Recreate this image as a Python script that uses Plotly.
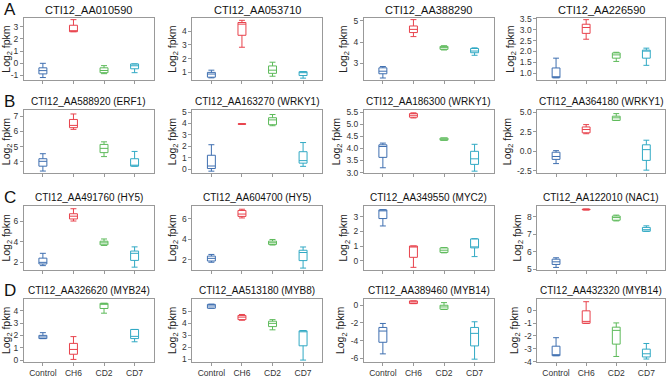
import plotly.graph_objects as go

categories = ["Control", "CH6", "CD2", "CD7"]
colors = ["#3f6fb0", "#e8424c", "#5dba5a", "#31a9c4"]

titles = [
    "CTI12_AA010590", "CTI12_AA053710", "CTI12_AA388290", "CTI12_AA226590",
    "CTI12_AA588920 (ERF1)", "CTI12_AA163270 (WRKY1)", "CTI12_AA186300 (WRKY1)", "CTI12_AA364180 (WRKY1)",
    "CTI12_AA491760 (HY5)", "CTI12_AA604700 (HY5)", "CTI12_AA349550 (MYC2)", "CTI12_AA122010 (NAC1)",
    "CTI12_AA326620 (MYB24)", "CTI12_AA513180 (MYB8)", "CTI12_AA389460 (MYB14)", "CTI12_AA432320 (MYB14)",
]
row_letters = ["A", "B", "C", "D"]

# box statistics per panel, order: Control, CH6, CD2, CD7
lower = [
    [-1.17, 2.6, -0.85, -0.77], [0.6, 2.83, 0.72, 0.58], [2.31, 4.26, 3.63, 3.38], [0.79, 2.56, 1.54, 1.36],
    [3.4, 6.14, 4.35, 3.72], [-0.17, 3.93, 3.8, 0.25], [3.2, 5.26, 4.34, 3.06], [-1.58, 2.25, 3.96, -2.42],
    [1.65, 6.0, 3.62, 1.5], [1.78, 6.1, 3.46, 1.21], [2.38, -0.47, 0.53, 0.27], [5.11, 8.38, 7.76, 7.17],
    [1.74, 0.05, 3.8, 1.48], [5.26, 4.26, 3.46, 0.94], [-5.5, 0.19, -0.48, -6.1], [-3.54, -1.02, -3.6, -3.8],
]
q1 = [
    [-0.87, 2.6, -0.77, -0.45], [0.65, 3.7, 0.93, 0.77], [2.51, 4.45, 3.66, 3.5], [0.79, 2.83, 1.69, 1.69],
    [3.72, 6.25, 4.61, 3.72], [0.06, 3.94, 3.89, 0.53], [3.63, 5.29, 4.34, 3.34], [-1.04, 2.37, 3.96, -1.17],
    [1.81, 6.2, 3.68, 2.16], [1.9, 6.25, 3.52, 1.94], [2.89, 0.22, 0.56, 0.87], [5.28, 8.39, 7.8, 7.17],
    [1.74, 0.47, 4.18, 1.74], [5.26, 4.31, 3.73, 2.13], [-4.19, 0.19, -0.45, -4.6], [-3.54, -1.02, -2.64, -3.64],
]
median = [
    [-0.6, 2.68, -0.59, -0.2], [0.88, 4.51, 1.16, 1.0], [2.63, 4.6, 3.74, 3.58], [0.82, 3.1, 1.84, 2.03],
    [4.04, 6.4, 4.89, 3.75], [0.28, 3.95, 4.31, 0.75], [4.08, 5.37, 4.38, 3.57], [-0.67, 2.79, 4.29, 0.21],
    [1.97, 6.47, 3.87, 2.85], [2.16, 6.48, 3.68, 2.73], [3.45, 0.93, 0.71, 0.92], [5.43, 8.41, 7.95, 7.26],
    [1.87, 0.86, 4.52, 1.92], [5.45, 4.52, 4.0, 3.33], [-2.92, 0.37, -0.19, -3.18], [-3.49, -0.87, -1.57, -3.39],
]
q3 = [
    [-0.37, 3.13, -0.37, -0.05], [1.0, 4.63, 1.47, 1.05], [2.79, 4.76, 3.8, 3.7], [1.24, 3.25, 1.93, 2.06],
    [4.21, 6.79, 5.15, 4.21], [1.22, 3.96, 4.5, 1.53], [4.15, 5.44, 4.43, 3.88], [-0.12, 3.12, 4.5, 0.83],
    [2.38, 6.71, 4.03, 3.07], [2.38, 6.83, 3.84, 2.95], [3.49, 1.0, 0.87, 1.49], [5.58, 8.43, 8.04, 7.39],
    [2.0, 1.35, 4.6, 2.48], [5.58, 4.66, 4.18, 3.38], [-2.51, 0.49, 0.0, -2.51], [-2.8, -0.05, -1.32, -3.03],
]
upper = [
    [0.0, 3.59, -0.19, -0.05], [1.16, 4.79, 1.74, 1.05], [2.85, 5.06, 3.83, 3.73], [1.69, 3.46, 1.96, 2.15],
    [4.54, 7.15, 5.32, 4.69], [2.14, 3.97, 4.78, 2.33], [4.22, 5.47, 4.43, 4.17], [0.08, 3.42, 4.83, 1.42],
    [2.85, 7.2, 4.25, 3.48], [2.54, 6.95, 4.0, 3.27], [3.5, 1.0, 0.89, 1.5], [5.66, 8.44, 8.09, 7.48],
    [2.22, 1.9, 4.6, 2.48], [5.6, 4.74, 4.31, 3.4], [-2.06, 0.49, 0.3, -1.87], [-2.14, 0.66, -0.99, -2.59],
]

# y tick labels per panel
ytick_vals = [
    [-1, 0, 1, 2, 3], [1, 2, 3, 4], [3, 4, 5], [1.0, 1.5, 2.0, 2.5, 3.0, 3.5],
    [4, 5, 6, 7], [0, 1, 2, 3, 4, 5], [3.0, 3.5, 4.0, 4.5, 5.0, 5.5], [-2.5, 0.0, 2.5, 5.0],
    [2, 4, 6], [2, 4, 6], [0, 1, 2, 3], [5, 6, 7, 8],
    [0, 1, 2, 3, 4], [1, 2, 3, 4, 5], [-6, -4, -2, 0], [-4, -3, -2, -1, 0],
]
ytick_fmt = [
    "{:g}", "{:g}", "{:g}", "{:.1f}",
    "{:g}", "{:g}", "{:.1f}", "{:.1f}",
    "{:g}", "{:g}", "{:g}", "{:g}",
    "{:g}", "{:g}", "{:g}", "{:g}",
]

# layout (pixel geometry)
W, H = 669, 378
y_ranges = [
    [-1.4, 3.75], [0.42, 4.98], [2.2, 5.15], [0.67, 3.55],
    [3.25, 7.43], [-0.36, 5.2], [2.97, 5.6], [-2.83, 5.33],
    [1.2, 7.5], [1.0, 7.3], [-0.67, 3.78], [4.95, 8.63],
    [-0.18, 4.98], [0.76, 6.06], [-6.45, 0.75], [-4.05, 0.9],
]
col_px = [(22, 152), (191, 321), (363, 493), (537, 665)]
row_px = [(14, 78), (108, 173), (206, 272), (301, 366)]
title_size = [11, 10, 10, 10]

fig = go.Figure()
layout = dict(
    width=W, height=H, autosize=False,
    margin=dict(l=0, r=0, t=0, b=0),
    paper_bgcolor="white", plot_bgcolor="white",
    showlegend=False,
    font=dict(family="Liberation Sans, Arial, sans-serif", color="#333"),
)
annotations = []

for i in range(16):
    r, c = divmod(i, 4)
    sfx = "" if i == 0 else str(i + 1)
    for j, cat in enumerate(categories):
        fig.add_trace(go.Box(
            x=[cat], q1=[q1[i][j]], median=[median[i][j]], q3=[q3[i][j]],
            lowerfence=[lower[i][j]], upperfence=[upper[i][j]],
            xaxis="x" + sfx, yaxis="y" + sfx,
            line=dict(color=colors[j], width=1),
            fillcolor="rgba(255,255,255,0)",
            width=0.26, whiskerwidth=0.75, boxpoints=False, showlegend=False,
        ))
    x0, x1 = col_px[c]
    y0, y1 = row_px[r]
    layout["xaxis" + sfx] = dict(
        domain=[x0 / W, x1 / W], anchor="y" + sfx,
        type="category", categoryorder="array", categoryarray=categories,
        range=[-0.62, 3.62],
        showline=True, mirror=True, linecolor="#999", linewidth=1,
        ticks="outside", ticklen=3, tickcolor="#999",
        showticklabels=(r == 3), tickfont=dict(size=8.5, color="#333"),
        showgrid=False, zeroline=False, fixedrange=True,
    )
    layout["yaxis" + sfx] = dict(
        domain=[1 - y1 / H, 1 - y0 / H], anchor="x" + sfx,
        range=y_ranges[i],
        tickvals=ytick_vals[i], ticktext=[ytick_fmt[i].format(v) for v in ytick_vals[i]],
        showline=True, mirror=True, linecolor="#999", linewidth=1,
        ticks="outside", ticklen=3, tickcolor="#999",
        tickfont=dict(size=8.5, color="#333"),
        showgrid=False, zeroline=False, fixedrange=True,
        title=dict(text="Log<sub>2</sub> fpkm", font=dict(size=10.5, color="#222"), standoff=3),
    )
    annotations.append(dict(
        text=titles[i], xref="paper", yref="paper",
        x=(x0 + x1) / 2 / W, y=1 - (y0 - 8) / H,
        xanchor="center", yanchor="middle", showarrow=False,
        font=dict(size=title_size[r], color="#111"),
    ))
    if c == 0:
        annotations.append(dict(
            text=row_letters[r], xref="paper", yref="paper",
            x=0.0, y=1 - (y0 - 8) / H,
            xanchor="left", yanchor="middle", showarrow=False,
            font=dict(size=17, color="#111"),
        ))

layout["annotations"] = annotations
fig.update_layout(**layout)
fig.write_html(
    "out.html",
    config={"displayModeBar": False},
    post_script="document.body.style.margin='0';document.body.style.overflow='hidden';",
)
